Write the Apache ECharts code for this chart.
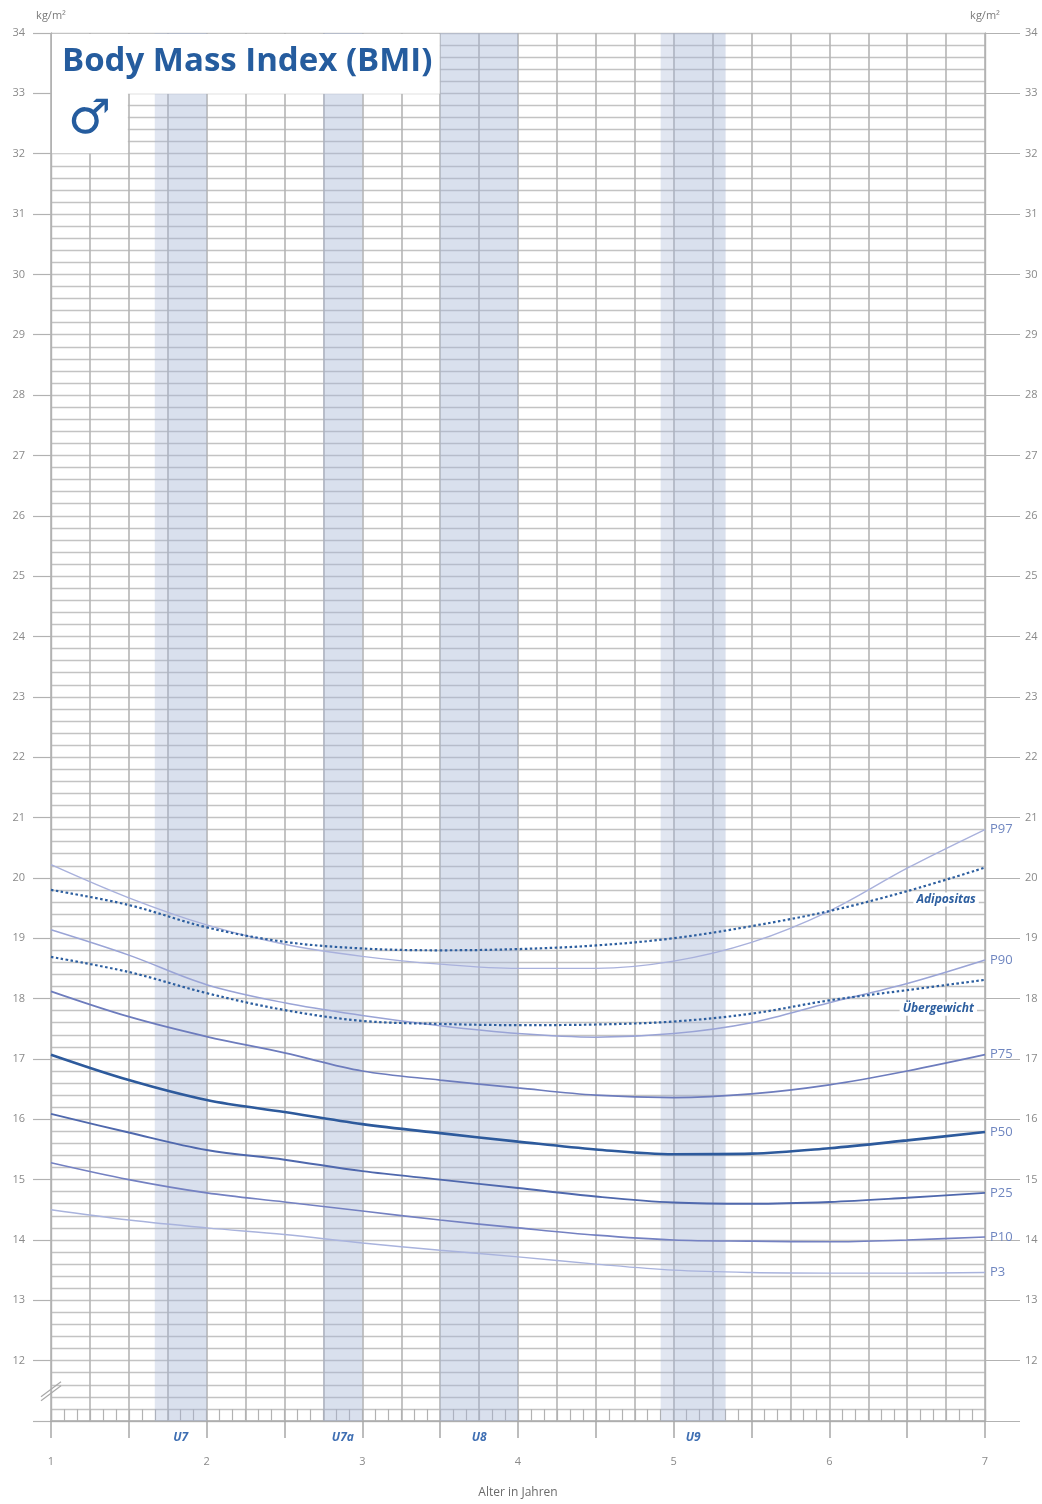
<!DOCTYPE html>
<html>
<head>
<meta charset="utf-8">
<title>Body Mass Index (BMI) – Jungen</title>
<script src="https://cdn.jsdelivr.net/npm/echarts@6/dist/echarts.min.js"></script>
<style>
  html, body { margin: 0; padding: 0; background: #ffffff; }
  #chart { width: 1042px; height: 1504px; }
</style>
</head>
<body>
<div id="chart"></div>
<script>
// Alter in Jahren (Stützstellen der Perzentilkurven)
const ages = [1, 1.5, 2, 2.5, 3, 3.5, 4, 4.5, 5, 5.5, 6, 6.5, 7];

// BMI-Perzentile Jungen (kg/m²)
const p97 = [20.22, 19.67, 19.22, 18.90, 18.70, 18.57, 18.50, 18.50, 18.62, 18.93, 19.45, 20.16, 20.80];
const p90 = [19.14, 18.72, 18.23, 17.93, 17.72, 17.55, 17.42, 17.36, 17.42, 17.60, 17.93, 18.25, 18.64];
const p75 = [18.12, 17.70, 17.37, 17.10, 16.80, 16.65, 16.52, 16.40, 16.36, 16.42, 16.57, 16.80, 17.07];
const p50 = [17.07, 16.65, 16.32, 16.12, 15.92, 15.77, 15.63, 15.50, 15.42, 15.43, 15.52, 15.65, 15.79];
const p25 = [16.09, 15.78, 15.49, 15.33, 15.14, 15.00, 14.86, 14.72, 14.62, 14.60, 14.63, 14.70, 14.78];
const p10 = [15.28, 15.00, 14.78, 14.63, 14.48, 14.33, 14.20, 14.08, 14.00, 13.98, 13.97, 14.00, 14.05];
const p3  = [14.50, 14.33, 14.20, 14.09, 13.95, 13.83, 13.72, 13.60, 13.50, 13.46, 13.45, 13.45, 13.46];

// Grenzwerte
const adipositas   = [19.80, 19.55, 19.18, 18.94, 18.83, 18.80, 18.82, 18.88, 19.00, 19.20, 19.45, 19.78, 20.17];
const uebergewicht = [18.69, 18.44, 18.09, 17.81, 17.63, 17.58, 17.56, 17.57, 17.62, 17.75, 17.97, 18.14, 18.31];

// Vorsorgeuntersuchungen: Zeitfenster in Jahren (from..to), Kernbereich core..to
const checkupNames = ['U7', 'U7a', 'U8', 'U9'];
const checkupFrom  = [20 / 12, 33 / 12, 42 / 12, 59 / 12];
const checkupCore  = [21 / 12, 33 / 12, 42 / 12, 60 / 12];
const checkupTo    = [24 / 12, 36 / 12, 48 / 12, 64 / 12];

const percentileNames = ['P97', 'P90', 'P75', 'P50', 'P25', 'P10', 'P3'];
const percentileData  = [p97, p90, p75, p50, p25, p10, p3];
const percentileColors = ['#a9b1dc', '#9aa4d6', '#6d7cbd', '#2d5a9c', '#4f68ad', '#7481c2', '#a9b3dd'];
const percentileWidths = [1.4, 1.5, 1.7, 2.6, 1.9, 1.6, 1.4];

const Y_MIN = 11, Y_MAX = 34;
const gridGrey = '#c3c3c3';
const axisGrey = '#b2b2b2';
const labelGrey = '#8a8a8a';
const blue = '#255c9e';

const chart = echarts.init(document.getElementById('chart'), null, { renderer: 'canvas' });

const pairs = arr => ages.map((a, i) => [a, arr[i]]);

const series = [];

// Zeitfenster der U-Untersuchungen als Bänder
series.push({
  name: 'Vorsorge',
  type: 'line',
  data: [],
  xAxisIndex: 0,
  yAxisIndex: 0,
  silent: true,
  z: 1,
  markArea: {
    silent: true,
    itemStyle: { color: 'rgba(165,180,214,0.33)' },
    label: {
      show: true,
      position: 'bottom',
      distance: 11,
      color: '#3f6fb3',
      fontStyle: 'italic',
      fontWeight: 'bold',
      fontSize: 12,
      fontFamily: 'Open Sans'
    },
    data: checkupNames.map((n, i) => [
      { name: n, coord: [checkupFrom[i], Y_MIN] },
      { coord: [checkupTo[i], Y_MAX] }
    ])
  }
});
series.push({
  name: 'Vorsorge Kern',
  type: 'line',
  data: [],
  xAxisIndex: 0,
  yAxisIndex: 0,
  silent: true,
  z: 1,
  markArea: {
    silent: true,
    itemStyle: { color: 'rgba(165,180,214,0.12)' },
    label: { show: false },
    data: checkupNames.map((n, i) => [
      { coord: [checkupCore[i], Y_MIN] },
      { coord: [checkupTo[i], Y_MAX] }
    ])
  }
});

// Perzentilkurven
percentileNames.forEach((name, i) => {
  series.push({
    name: name,
    type: 'line',
    data: pairs(percentileData[i]),
    xAxisIndex: 0,
    yAxisIndex: 0,
    smooth: 0.35,
    symbol: 'none',
    z: 3,
    lineStyle: { color: percentileColors[i], width: percentileWidths[i] },
    endLabel: {
      show: true,
      formatter: name,
      distance: 5,
      color: '#6f86c0',
      fontSize: 13,
      fontFamily: 'Open Sans'
    }
  });
});

// Grenzlinien Adipositas / Übergewicht
const limitLine = (name, arr, labelAge, labelBmi) => ({
  name: name,
  type: 'line',
  data: pairs(arr),
  xAxisIndex: 0,
  yAxisIndex: 0,
  smooth: 0.35,
  symbol: 'none',
  z: 4,
  lineStyle: { color: '#2c5e9f', width: 2.2, type: [2.5, 2.5] },
  markPoint: {
    silent: true,
    symbol: 'rect',
    symbolSize: 1,
    itemStyle: { color: 'rgba(0,0,0,0)' },
    label: {
      show: true,
      position: 'inside',
      formatter: name,
      color: '#2c5e9f',
      fontStyle: 'italic',
      fontWeight: 'bold',
      fontSize: 12,
      fontFamily: 'Open Sans',
      backgroundColor: '#ffffff',
      padding: [1, 3]
    },
    data: [{ coord: [labelAge, labelBmi] }]
  }
});
series.push(limitLine('Adipositas', adipositas, 6.75, 19.64));
series.push(limitLine('Übergewicht', uebergewicht, 6.70, 17.83));

const yAxisBase = {
  type: 'value',
  min: Y_MIN,
  max: Y_MAX,
  interval: 1,
  name: 'kg/m²',
  nameLocation: 'end',
  nameGap: 12,
  nameTextStyle: { color: '#7a7a7a', fontSize: 11, fontFamily: 'Open Sans', align: 'center' },
  axisLine: { show: true, onZero: false, lineStyle: { color: axisGrey, width: 1.4 } },
  axisLabel: {
    color: labelGrey,
    fontSize: 11,
    fontFamily: 'Open Sans',
    formatter: v => (v === Y_MIN ? '' : String(v))
  }
};

const option = {
  animation: false,
  backgroundColor: '#ffffff',
  grid: { left: 51, right: 57, top: 33, bottom: 81, containLabel: false },
  xAxis: [
    {
      // Vierteljahresraster mit Monatsstrichen am unteren Rand
      type: 'value',
      min: 1,
      max: 7,
      interval: 0.25,
      position: 'bottom',
      axisLine: { show: true, onZero: false, lineStyle: { color: '#a8a8a8', width: 1.5 } },
      axisTick: { show: true, inside: true, length: 12, lineStyle: { color: axisGrey, width: 1.2 } },
      minorTick: { show: true, splitNumber: 3, length: 12, lineStyle: { color: axisGrey, width: 1.2 } },
      axisLabel: { show: false },
      splitLine: { show: true, lineStyle: { color: '#b5b5b5', width: 1.6 } }
    },
    {
      // Halbjahresstriche und Jahresbeschriftung
      type: 'value',
      min: 1,
      max: 7,
      interval: 0.5,
      position: 'bottom',
      axisLine: { show: false, onZero: false },
      axisTick: { show: true, length: 17, lineStyle: { color: '#a8a8a8', width: 1.5 } },
      axisLabel: {
        margin: 35,
        color: labelGrey,
        fontSize: 11,
        fontFamily: 'Open Sans',
        formatter: v => (Number.isInteger(v) ? String(v) : '')
      },
      splitLine: { show: false },
      name: 'Alter in Jahren',
      nameLocation: 'middle',
      nameGap: 66,
      nameTextStyle: { color: '#6a6a6a', fontSize: 12, fontFamily: 'Open Sans' }
    }
  ],
  yAxis: [
    Object.assign({}, yAxisBase, {
      position: 'left',
      axisTick: { show: true, length: 18, lineStyle: { color: axisGrey, width: 1.2 } },
      axisLabel: Object.assign({}, yAxisBase.axisLabel, { margin: 26 }),
      splitLine: { show: true, lineStyle: { color: gridGrey, width: 1.3 } },
      minorTick: { show: false, splitNumber: 5 },
      minorSplitLine: { show: true, lineStyle: { color: gridGrey, width: 1.3 } }
    }),
    Object.assign({}, yAxisBase, {
      position: 'right',
      axisTick: { show: true, length: 35, lineStyle: { color: axisGrey, width: 1.2 } },
      axisLabel: Object.assign({}, yAxisBase.axisLabel, { margin: 40 }),
      splitLine: { show: false }
    })
  ],
  series: series
};

chart.setOption(option);

// Titelfeld, Symbol und Achsenbruch aus den Achsenskalen platzieren
const px = (age, bmi) => chart.convertToPixel({ gridIndex: 0 }, [age, bmi]);
const tl = px(1, 34);
const trTop = px(3.5, 33);
const bl = px(1.5, 32);
const brk = px(1, 11.55);

chart.setOption({
  graphic: [
    {
      type: 'rect',
      z: 50,
      silent: true,
      shape: { x: tl[0] + 1, y: tl[1] + 1, width: trTop[0] - tl[0] - 1.5, height: trTop[1] - tl[1] - 0.5 },
      style: { fill: '#ffffff' }
    },
    {
      type: 'rect',
      z: 50,
      silent: true,
      shape: { x: tl[0] + 1, y: trTop[1] - 1, width: bl[0] - tl[0] - 2, height: bl[1] - trTop[1] + 0.5 },
      style: { fill: '#ffffff' }
    },
    {
      type: 'text',
      z: 51,
      silent: true,
      left: tl[0] + 11,
      top: tl[1] + 12,
      style: {
        text: 'Body Mass Index (BMI)',
        fill: blue,
        font: 'bold 33px "Open Sans"'
      }
    },
    {
      type: 'text',
      z: 51,
      silent: true,
      left: tl[0] + 17,
      top: trTop[1] + 3,
      style: {
        text: '♂',
        fill: blue,
        font: 'bold 48px "DejaVu Sans"'
      }
    },
    {
      type: 'line',
      z: 52,
      silent: true,
      shape: { x1: brk[0] - 10, y1: brk[1] + 9, x2: brk[0] + 10, y2: brk[1] - 6 },
      style: { stroke: '#a8a8a8', lineWidth: 1.2 }
    },
    {
      type: 'line',
      z: 52,
      silent: true,
      shape: { x1: brk[0] - 10, y1: brk[1] + 13, x2: brk[0] + 10, y2: brk[1] - 2 },
      style: { stroke: '#a8a8a8', lineWidth: 1.2 }
    }
  ]
});
</script>
</body>
</html>
